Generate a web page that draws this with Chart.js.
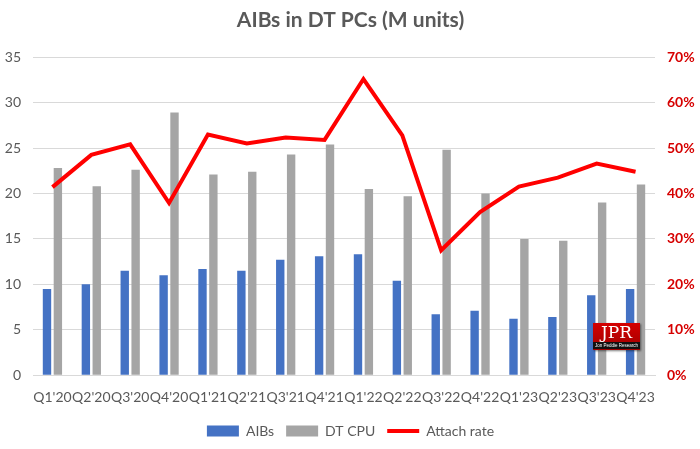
<!DOCTYPE html>
<html>
<head>
<meta charset="utf-8">
<script src="https://cdn.jsdelivr.net/npm/chart.js@4.4.0/dist/chart.umd.min.js"></script>
<style>
  html, body { margin: 0; padding: 0; background: #fff; }
  #wrap { position: relative; width: 700px; height: 449px; }
  #logo {
    position: absolute; left: 593px; top: 323px; width: 47px; height: 27px;
    background: linear-gradient(#d40000, #a00000);
    box-shadow: 1px 1px 2px rgba(0,0,0,0.5);
    font-family: "DejaVu Serif", serif; color: #fff; text-align: center;
  }
  #logo .big { font-size: 17px; line-height: 19px; }
  #logo .small { background: #111; font-family: "Liberation Sans Narrow", "Liberation Sans", sans-serif; font-size: 4.5px; line-height: 7px; height: 7px; overflow: hidden; white-space: nowrap; }
</style>
</head>
<body>
<div id="wrap">
  <canvas id="myChart" width="700" height="449"></canvas>
  <div id="logo"><div class="big">JPR</div><div class="small">Jon Peddie Research</div></div>
</div>
<script>
// Dados
const trimestres = ["Q1'20", "Q2'20", "Q3'20", "Q4'20", "Q1'21", "Q2'21", "Q3'21", "Q4'21",
                    "Q1'22", "Q2'22", "Q3'22", "Q4'22", "Q1'23", "Q2'23", "Q3'23", "Q4'23"];
const aibs = [9.5, 10.0, 11.5, 11.0, 11.7, 11.5, 12.7, 13.1,
              13.3, 10.4, 6.7, 7.1, 6.2, 6.4, 8.8, 9.5];
const dtCpu = [22.8, 20.8, 22.6, 28.9, 22.1, 22.4, 24.3, 25.4,
               20.5, 19.7, 24.8, 20.0, 15.0, 14.8, 19.0, 21.0];
const attachRate = [41.4, 48.5, 50.8, 37.9, 53.0, 51.0, 52.3, 51.8,
                    65.2, 52.8, 27.5, 35.9, 41.5, 43.5, 46.6, 44.8];

const cinza = '#595959';
const fonte = 'Lato';

const ctx = document.getElementById('myChart').getContext('2d');
const myChart = new Chart(ctx, {
    type: 'bar',
    data: {
        labels: trimestres,
        datasets: [
            {
                type: 'line',
                label: 'Attach rate',
                data: attachRate,
                yAxisID: 'y1',
                borderColor: '#ff0000',
                backgroundColor: '#ff0000',
                borderWidth: 4,
                pointRadius: 0,
                pointStyle: 'line',
                tension: 0,
                order: 0
            },
            {
                label: 'AIBs',
                data: aibs,
                yAxisID: 'y',
                backgroundColor: '#4472c4',
                pointStyle: 'rect',
                order: 1
            },
            {
                label: 'DT CPU',
                data: dtCpu,
                yAxisID: 'y',
                backgroundColor: '#a5a5a5',
                pointStyle: 'rect',
                order: 2
            }
        ]
    },
    options: {
        responsive: false,
        animation: false,
        categoryPercentage: 0.56,
        barPercentage: 0.77,
        layout: {
            padding: { top: 6, right: 4, bottom: 1, left: 5 }
        },
        plugins: {
            title: {
                display: true,
                text: 'AIBs in DT PCs (M units)',
                color: cinza,
                font: { family: fonte, size: 21, weight: 'bold' },
                padding: { top: 2, bottom: 24 }
            },
            legend: {
                position: 'bottom',
                labels: {
                    // barras primeiro, linha por último
                    sort: (a, b) => (a.datasetIndex === 0 ? 1 : 0) - (b.datasetIndex === 0 ? 1 : 0),
                    usePointStyle: true,
                    pointStyleWidth: 32,
                    boxHeight: 11,
                    color: cinza,
                    font: { family: fonte, size: 14 },
                    padding: 12
                }
            },
            tooltip: { enabled: false }
        },
        scales: {
            x: {
                grid: { display: false },
                border: { color: '#d9d9d9' },
                ticks: {
                    color: cinza,
                    font: { family: fonte, size: 14 },
                    autoSkip: false,
                    maxRotation: 0,
                    padding: 6
                }
            },
            y: {
                position: 'left',
                min: 0,
                max: 35,
                border: { display: false },
                grid: { color: '#d9d9d9', drawTicks: false },
                ticks: {
                    stepSize: 5,
                    color: cinza,
                    font: { family: fonte, size: 14 },
                    padding: 12
                },
                afterFit: (scale) => { scale.width = 28; }
            },
            y1: {
                position: 'right',
                min: 0,
                max: 70,
                border: { display: false },
                grid: { display: false, drawTicks: false },
                ticks: {
                    stepSize: 10,
                    color: '#d60000',
                    font: { family: fonte, size: 14, weight: 'bold' },
                    padding: 12,
                    callback: (v) => v + '%'
                },
                afterFit: (scale) => { scale.width = 41; }
            }
        }
    }
});
</script>
</body>
</html>
